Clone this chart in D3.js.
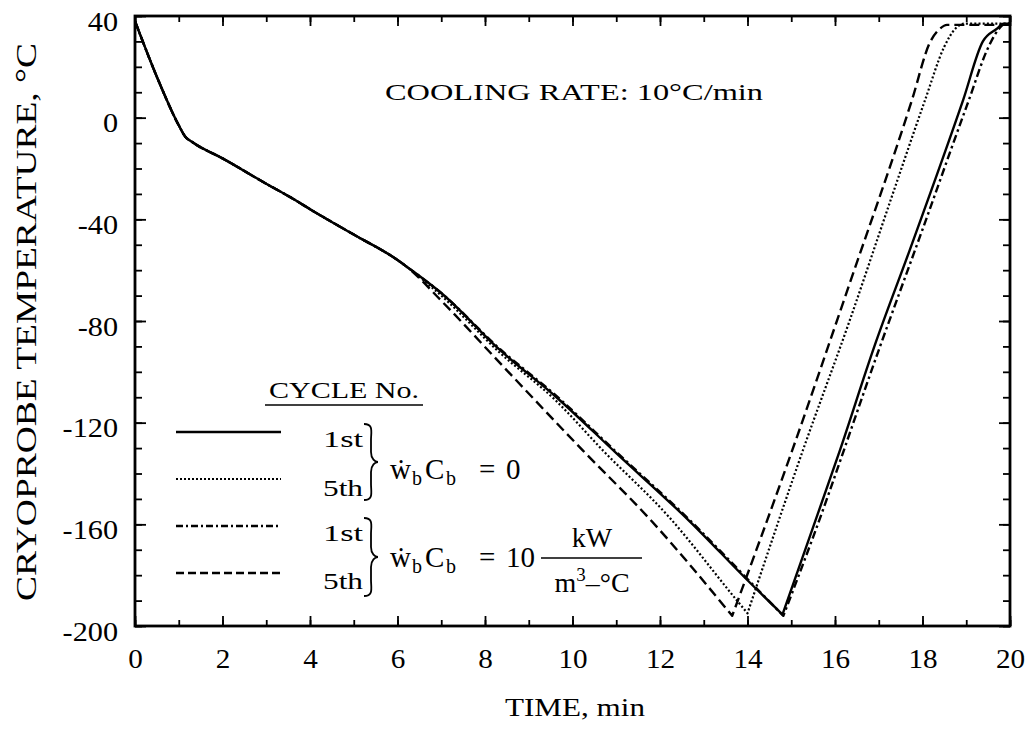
<!DOCTYPE html>
<html>
<head>
<meta charset="utf-8">
<script src="https://cdn.jsdelivr.net/npm/d3@7"></script>
<style>
  html, body { margin: 0; padding: 0; background: #fff; }
  svg text { font-family: "Liberation Serif", "Times New Roman", serif; fill: #000; }
</style>
</head>
<body>
<svg id="chart" width="1030" height="732"></svg>
<script>
// Cryoprobe temperature history, time (min) vs temperature (°C)
const xTicks = [0, 2, 4, 6, 8, 10, 12, 14, 16, 18, 20];
const yTicks = [40, 0, -40, -80, -120, -160, -200];

// shared start of the freezing run
const coolStart = [[0, 38], [0.55, 14], [1.0, -3], [1.15, -7.5], [1.3, -9.5], [2, -16], [3, -26],
  [3.66, -32.4], [4, -36], [5, -46], [6, -56], [6.2, -58.5]];

// 1st cycle, wbCb = 0
const firstNoPerf = [[7, -69], [8.34, -91.4], [9.6, -109.5], [11, -132], [12.69, -159], [14, -182],
  [14.8, -195.5], [15.4, -166], [16.11, -131], [16.9, -90], [17.71, -52], [18.93, 7], [19.38, 30],
  [19.7, 35], [19.85, 37], [20, 37]];
// 5th cycle, wbCb = 0
const fifthNoPerf = [[7, -70], [8.34, -92.5], [9.6, -111], [10.7, -131], [12.2, -157], [13.76, -190],
  [14.0, -195], [15.27, -130.7], [16.34, -79.6], [17.3, -31], [18.06, 7], [18.5, 28], [18.75, 35],
  [18.95, 37], [20, 37]];
// 1st cycle, wbCb = 10 kW/m3-C
const firstPerf = [[7, -69], [8.34, -91], [9.6, -109], [11, -131.5], [12.69, -158.5], [14, -181.5],
  [14.82, -196], [15.5, -165], [17.03, -90], [18.0, -44], [19.02, 5], [19.54, 29], [19.75, 35],
  [19.9, 37], [20, 37]];
// 5th cycle, wbCb = 10 kW/m3-C
const fifthPerf = [[7, -72], [8.34, -96.5], [10.24, -131], [11.77, -158], [13.65, -196],
  [15.02, -131], [16.34, -65], [17.76, 7], [18.17, 29.6], [18.4, 35], [18.56, 36.5], [20, 36.5]];

const seriesNames = ["1st", "5th", "1st", "5th"];
const seriesData = [firstNoPerf, fifthNoPerf, firstPerf, fifthPerf];
const seriesDash = [null, "2,2.2", "8,3.5,2.5,3.5", "10,5"];
const legendDash = [null, "2,2", "7,3,2,3", "8,4"];

const svg = d3.select("#chart");
const M = { left: 135, right: 1010, top: 16, bottom: 626 };
const x = d3.scaleLinear().domain([0, 20]).range([M.left, M.right]);
const y = d3.scaleLinear().domain([-200, 40]).range([M.bottom, M.top]);

// stretch tick labels a little, like the typeset original
function widen(sel, k) {
  sel.each(function () {
    const w = this.getComputedTextLength();
    d3.select(this).attr("textLength", w * k).attr("lengthAdjust", "spacingAndGlyphs");
  });
}
function styleAxis(g) {
  g.select(".domain").remove();
  g.selectAll("line").attr("stroke", "#000").attr("stroke-width", 1.8);
}

// minor + major ticks on all four sides, pointing inward
const minorX = d3.range(0, 21, 1);
const minorY = d3.range(-200, 41, 10);

svg.append("g").attr("transform", `translate(0,${M.bottom})`)
  .call(d3.axisBottom(x).tickValues(minorX).tickSizeInner(-6).tickSizeOuter(0).tickFormat(""))
  .call(styleAxis);
const xAxis = svg.append("g").attr("transform", `translate(0,${M.bottom})`)
  .call(d3.axisBottom(x).tickValues(xTicks).tickSizeInner(-10).tickSizeOuter(0).tickPadding(23)
    .tickFormat(d => String(d)))
  .call(styleAxis);
xAxis.selectAll("text").attr("font-size", 27).attr("font-family", "Liberation Serif").call(widen, 1.08);

svg.append("g").attr("transform", `translate(0,${M.top})`)
  .call(d3.axisTop(x).tickValues(minorX).tickSizeInner(-6).tickSizeOuter(0).tickFormat(""))
  .call(styleAxis);
svg.append("g").attr("transform", `translate(0,${M.top})`)
  .call(d3.axisTop(x).tickValues(xTicks).tickSizeInner(-10).tickSizeOuter(0).tickFormat(""))
  .call(styleAxis);

svg.append("g").attr("transform", `translate(${M.left},0)`)
  .call(d3.axisLeft(y).tickValues(minorY).tickSizeInner(-7).tickSizeOuter(0).tickFormat(""))
  .call(styleAxis);
const yAxis = svg.append("g").attr("transform", `translate(${M.left},0)`)
  .call(d3.axisLeft(y).tickValues(yTicks).tickSizeInner(-11).tickSizeOuter(0).tickPadding(17)
    .tickFormat(d => String(d)))
  .call(styleAxis);
yAxis.selectAll("text").attr("font-size", 28).attr("font-family", "Liberation Serif")
  .attr("dy", "0.5em").call(widen, 1.08);

svg.append("g").attr("transform", `translate(${M.right},0)`)
  .call(d3.axisRight(y).tickValues(minorY).tickSizeInner(-7).tickSizeOuter(0).tickFormat(""))
  .call(styleAxis);
svg.append("g").attr("transform", `translate(${M.right},0)`)
  .call(d3.axisRight(y).tickValues(yTicks).tickSizeInner(-11).tickSizeOuter(0).tickFormat(""))
  .call(styleAxis);

// plot frame
svg.append("rect")
  .attr("x", M.left).attr("y", M.top)
  .attr("width", M.right - M.left).attr("height", M.bottom - M.top)
  .attr("fill", "none").attr("stroke", "#000").attr("stroke-width", 2.8);

// temperature curves: smooth cooling and warming branches meeting in a sharp minimum
const smooth = d3.line().x(d => x(d[0])).y(d => y(d[1])).curve(d3.curveMonotoneX);
function curvePath(s) {
  const full = coolStart.concat(s);
  let iMin = 0;
  full.forEach((d, i) => { if (d[1] < full[iMin][1]) iMin = i; });
  const down = smooth(full.slice(0, iMin + 1));
  const up = smooth(full.slice(iMin)).replace(/^M/, "L");
  return down + up;
}
const plot = svg.append("g");
seriesData.forEach((s, i) => {
  plot.append("path")
    .attr("d", curvePath(s))
    .attr("fill", "none")
    .attr("stroke", "#000")
    .attr("stroke-linejoin", "round")
    .attr("stroke-width", i === 1 ? 2.2 : 2.4)
    .attr("stroke-dasharray", seriesDash[i]);
});

// text helper: fixed ink width via textLength
function label(txt, px, py, size, width, anchor) {
  const t = svg.append("text").attr("x", px).attr("y", py)
    .attr("font-size", size).attr("text-anchor", anchor || "start").text(txt);
  if (width) t.attr("textLength", width).attr("lengthAdjust", "spacingAndGlyphs");
  return t;
}

label("COOLING RATE:  10°C/min", 385, 100, 23, 378);
label("TIME, min", 575, 716, 26, 140, "middle");
svg.append("text")
  .attr("transform", "translate(36,322) rotate(-90)")
  .attr("text-anchor", "middle").attr("font-size", 30)
  .attr("textLength", 558).attr("lengthAdjust", "spacingAndGlyphs")
  .text("CRYOPROBE TEMPERATURE, °C");

// legend
const lg = svg.append("g");
label("CYCLE No.", 344, 398, 23, 150, "middle");
lg.append("line").attr("x1", 265).attr("x2", 423).attr("y1", 405).attr("y2", 405)
  .attr("stroke", "#000").attr("stroke-width", 1.6);
const legendY = [432, 479, 526, 573];
const legendTextY = [447, 496, 541, 589];
seriesNames.forEach((n, i) => {
  lg.append("line").attr("x1", 176).attr("x2", 281).attr("y1", legendY[i]).attr("y2", legendY[i])
    .attr("stroke", "#000").attr("stroke-width", i === 1 ? 2 : 2.4)
    .attr("stroke-dasharray", legendDash[i]);
  label(n, 323, legendTextY[i], 24, 40);
});

// curly braces grouping the cycles
function brace(x0, y0, y1) {
  const ym = (y0 + y1) / 2, w = 14;
  return `M${x0},${y0} C${x0 + w * 0.7},${y0} ${x0 + w * 0.5},${y0 + 8} ${x0 + w * 0.5},${y0 + 16}
    L${x0 + w * 0.5},${ym - 10} C${x0 + w * 0.5},${ym - 3} ${x0 + w * 0.8},${ym} ${x0 + w},${ym}
    C${x0 + w * 0.8},${ym} ${x0 + w * 0.5},${ym + 3} ${x0 + w * 0.5},${ym + 10}
    L${x0 + w * 0.5},${y1 - 16} C${x0 + w * 0.5},${y1 - 8} ${x0 + w * 0.7},${y1} ${x0},${y1}`;
}
lg.append("path").attr("d", brace(364, 424, 500)).attr("fill", "none").attr("stroke", "#000").attr("stroke-width", 1.8);
lg.append("path").attr("d", brace(364, 518, 596)).attr("fill", "none").attr("stroke", "#000").attr("stroke-width", 1.8);

// perfusion term labels, glyphs placed one by one
function perfLabel(py, value) {
  const t = svg.append("text").attr("y", py).attr("font-size", 29);
  t.append("tspan").attr("x", 390).text("\u1E87");
  t.append("tspan").attr("x", 412).attr("dy", 6).attr("font-size", 20).text("b");
  t.append("tspan").attr("x", 425).attr("dy", -6).text("C");
  t.append("tspan").attr("x", 446).attr("dy", 6).attr("font-size", 20).text("b");
  t.append("tspan").attr("x", 479).attr("dy", -6).text("=");
  t.append("tspan").attr("x", 506).text(value);
  return t;
}
perfLabel(479, "0");
perfLabel(567, "10");
label("kW", 592, 547, 28, null, "middle");
lg.append("line").attr("x1", 541).attr("x2", 642).attr("y1", 558).attr("y2", 558)
  .attr("stroke", "#000").attr("stroke-width", 1.6);
const den = svg.append("text").attr("x", 592).attr("y", 592).attr("font-size", 28).attr("text-anchor", "middle");
den.append("tspan").text("m");
den.append("tspan").attr("dy", -11).attr("font-size", 19).text("3");
den.append("tspan").attr("dy", 11).text("\u2013\u00B0C");
</script>
</body>
</html>
